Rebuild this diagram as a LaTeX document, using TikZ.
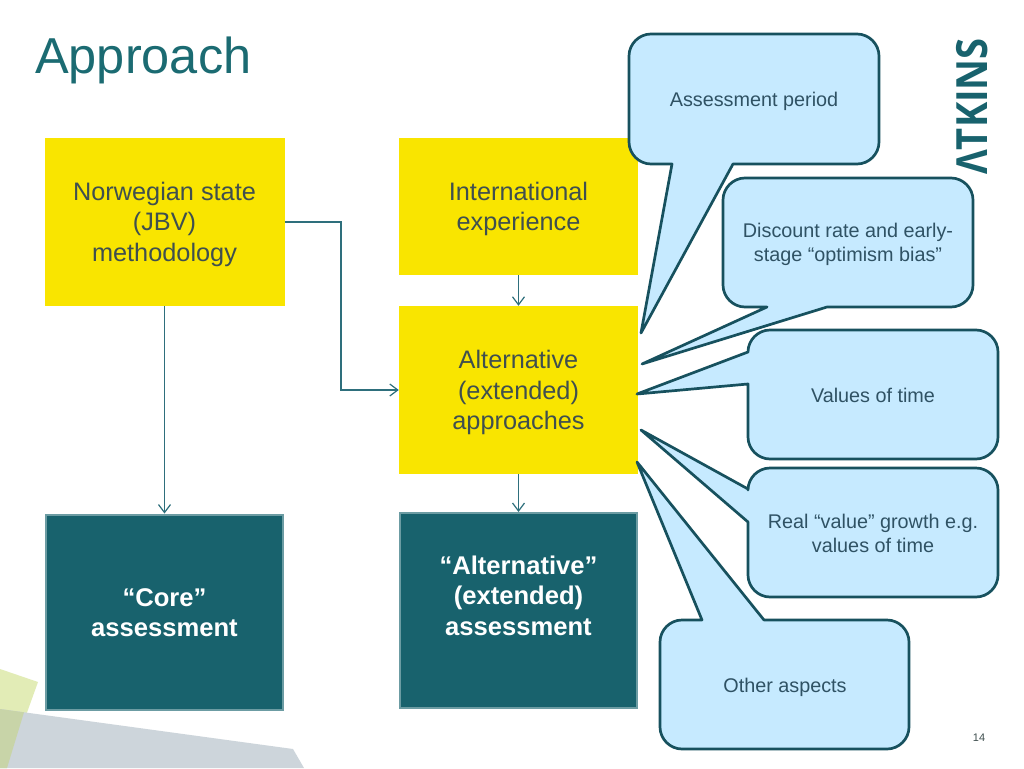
\documentclass[tikz,border=0pt]{standalone}
\usepackage{fontspec}
\setmainfont{Liberation Sans}
\newfontfamily\logofont{Open Sans}
\usetikzlibrary{arrows.meta}
\definecolor{deckyellow}{HTML}{F9E500}
\definecolor{deckteal}{HTML}{18626D}
\definecolor{deckedge}{HTML}{6C9CA3}
\definecolor{deckarrow}{HTML}{2E6F7C}
\definecolor{decktext}{HTML}{3F4F4F}
\definecolor{decktitle}{HTML}{1B6B72}
\definecolor{callfill}{HTML}{C6EAFF}
\definecolor{callline}{HTML}{17515E}
\definecolor{calltext}{HTML}{2F5264}
\definecolor{shapegreen}{HTML}{E2ECB6}
\definecolor{shapegray}{HTML}{CDD5DB}
\definecolor{shapemix}{HTML}{C8D4A8}
\tikzset{
  ybox/.style={fill=deckyellow,inner sep=0pt,align=center,text=decktext,
    font=\fontsize{25.3}{30.5}\selectfont},
  tbox/.style={fill=deckteal,draw=deckedge,line width=2pt,inner sep=0pt,align=center,text=white,
    font=\fontsize{25.6}{30.5}\selectfont\bfseries},
  link/.style={draw=deckarrow,line width=1.2pt,-{Straight Barb[length=8pt,width=12pt,line width=1.2pt]}},
  bubble/.style={fill=callfill,draw=callline,line width=2.7pt,line join=round},
  bubbletext/.style={inner sep=0pt,align=center,text=calltext,
    font=\fontsize{19.8}{24}\selectfont}
}
% #1 left, #2 top, #3 right, #4 bottom, then the tail points on the top, bottom and left sides
\newcommand{\bubblepath}[7]{%
  \draw[bubble] (#1+22,#2) #5 -- (#3-22,#2)
    .. controls (#3-10,#2) and (#3,#2+10) .. (#3,#2+22) -- (#3,#4-22)
    .. controls (#3,#4-10) and (#3-10,#4) .. (#3-22,#4) #6 -- (#1+22,#4)
    .. controls (#1+10,#4) and (#1,#4-10) .. (#1,#4-22) #7 -- (#1,#2+22)
    .. controls (#1,#2+10) and (#1+10,#2) .. (#1+22,#2) -- cycle;}
\newcommand{\dropline}[1]{\rule{0pt}{#1pt}}
\begin{document}
\begin{tikzpicture}[x=1pt,y=-1pt]
\useasboundingbox (0,0) rectangle (1024,768);
\fill[white] (0,0) rectangle (1024,768);
% background shapes
\fill[shapegreen] (0,669) -- (38,682) -- (7,768) -- (0,768) -- cycle;
\fill[shapegray] (0,709) -- (293,749) -- (304,768) -- (0,768) -- cycle;
\fill[shapemix] (0,709) -- (24,712.3) -- (7,768) -- (0,768) -- cycle;
% title, logo, page number
\node[anchor=base west,inner sep=0pt,text=decktitle,font=\fontsize{50.5}{60}\selectfont] (title) at (35,73) {Approach};
\node[anchor=center,inner sep=0pt,rotate=90,text=deckteal,font=\logofont\fontsize{43}{50}\selectfont\bfseries] (logo) at (972.5,106.5) {\scalebox{.885}[1]{ΛTKINS}};
\node[inner sep=0pt,text=decktext,font=\fontsize{11}{13}\selectfont] (page) at (979,738) {14};
% boxes
\node[ybox,minimum width=240pt,minimum height=168pt] (norway) at (164.5,222) {\dropline{23}Norwegian state\\(JBV)\\methodology};
\node[ybox,minimum width=239pt,minimum height=137pt] (intl) at (518.5,206.5) {\dropline{23}International\\experience};
\node[ybox,minimum width=239pt,minimum height=168pt] (alt) at (518.5,390) {\dropline{24}Alternative\\(extended)\\approaches};
\node[tbox,minimum width=237pt,minimum height=195pt] (core) at (164.5,612) {\dropline{19}“Core”\\assessment};
\node[tbox,minimum width=237pt,minimum height=195pt] (altass) at (518.5,610.5) {“Alternative”\\(extended)\\assessment\\[-10pt]\strut};
% connectors
\draw[link] (norway.south) -- (core.north);
\draw[link] (norway.east) -- (341,222) -- (341,390) -- (alt.west);
\draw[link] (intl.south) -- (alt.north);
\draw[link] (alt.south) -- (altass.north);
% callouts
\bubblepath{629}{34}{879}{164}{}{-- (733,164) -- (641,333) -- (672,164)}{}
\node[bubbletext] (c1) at (754,101) {Assessment period};
\bubblepath{723}{178}{973}{307}{}{-- (827,307) -- (642,364) -- (767,307)}{}
\node[bubbletext] (c2) at (848,244) {Discount rate and early-\\stage “optimism bias”};
\bubblepath{748}{330}{998}{459}{}{}{-- (748,384) -- (637,394) -- (748,352)}
\node[bubbletext] (c3) at (873,395) {Values of time};
\bubblepath{748}{468}{998}{597}{}{}{-- (748,522) -- (641,430) -- (748,489)}
\node[bubbletext] (c4) at (873,533) {Real “value” growth e.g.\\values of time};
\bubblepath{660}{620}{909}{749}{-- (702,620) -- (637,462) -- (764,620)}{}{}
\node[bubbletext] (c5) at (785,687.5) {Other aspects};
\end{tikzpicture}
\end{document}
